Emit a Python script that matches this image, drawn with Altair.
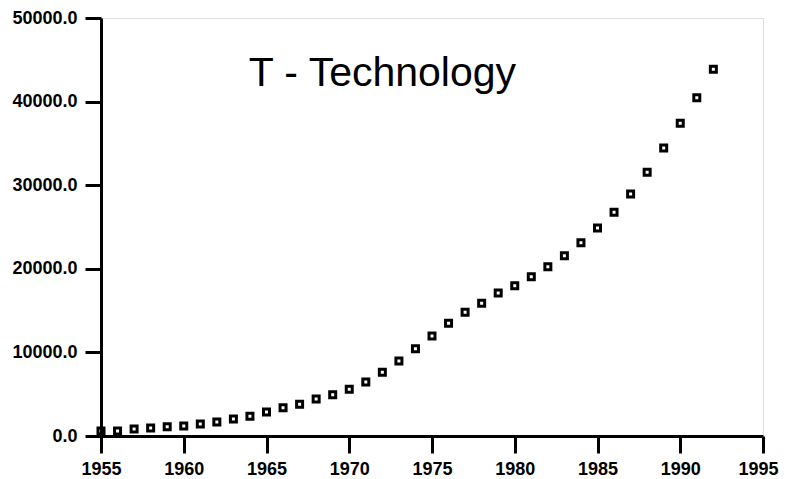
import altair as alt
import pandas as pd

years = list(range(1955, 1993))
values = [600, 600, 840, 950, 1100, 1200, 1430, 1670, 2030, 2350,
          2870, 3390, 3790, 4430, 4940, 5590, 6460, 7620, 8970, 10440,
          11960, 13480, 14800, 15870, 17100, 17980, 19060, 20250, 21570, 23120,
          24880, 26760, 28950, 31540, 34450, 37400, 40470, 43860]
x_ticks = [1955, 1960, 1965, 1970, 1975, 1980, 1985, 1990, 1995]
y_ticks = [0, 10000, 20000, 30000, 40000, 50000]
title_text = "T - Technology"
title_year = 1972.0
title_value = 41870

df = pd.DataFrame({"year": years, "value": values})

font = "Liberation Sans"

xs = alt.Scale(domain=[1955, 1995], nice=False, zero=False)
ys = alt.Scale(domain=[0, 50000], nice=False)

points = alt.Chart(df).mark_point(
    shape="square", filled=False, size=36, strokeWidth=3, color="black", opacity=1
).encode(
    x=alt.X("year:Q", scale=xs,
            axis=alt.Axis(values=x_ticks, format="d", title=None, grid=False,
                          domainColor="black", domainWidth=3, tickColor="black",
                          tickWidth=3, tickSize=17, labelFont=font, labelFontSize=18,
                          labelFontWeight="bold", labelColor="black", labelPadding=7,
                          labelFlush=False,
                          labelOffset=alt.expr("datum.value == 1995 ? -5 : 0"))),
    y=alt.Y("value:Q", scale=ys,
            axis=alt.Axis(values=y_ticks, format=".1f", title=None, grid=False,
                          domainColor="black", domainWidth=3, tickColor="black",
                          tickWidth=3, tickSize=16, labelFont=font, labelFontSize=18,
                          labelFontWeight="bold", labelColor="black", labelPadding=8,
                          labelFlush=False)),
)

title = alt.Chart(pd.DataFrame({"t": [title_text]})).mark_text(
    font=font, fontSize=41, fontWeight="normal", color="black",
    align="center", baseline="alphabetic"
).encode(
    x=alt.X(datum=title_year, type="quantitative", scale=xs),
    y=alt.Y(datum=title_value, type="quantitative", scale=ys),
    text="t:N",
)

chart = alt.layer(points, title).properties(
    width=662,
    height=418,
    autosize=alt.AutoSizeParams(type="none"),
    padding={"left": 93, "top": 10, "right": 16, "bottom": 43},
).configure_view(
    stroke="black", strokeWidth=2
).configure(background="white")

chart.save("out.html", embed_options={"renderer": "svg", "actions": False})
